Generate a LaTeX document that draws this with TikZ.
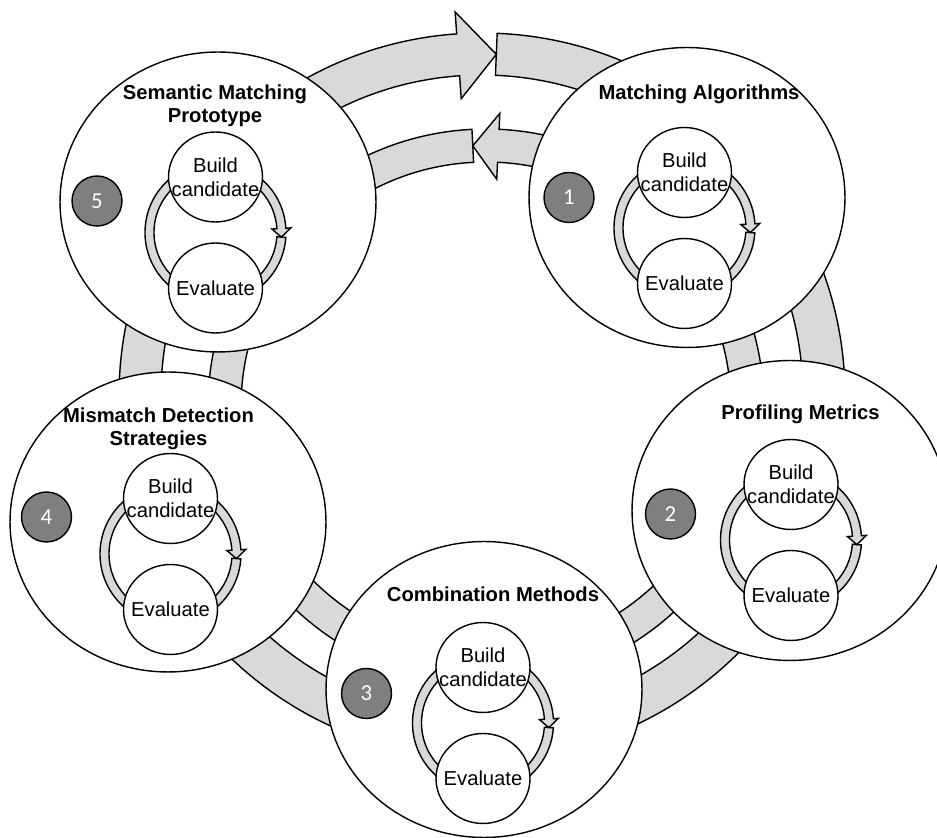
\documentclass[tikz,border=0pt]{standalone}
\usepackage{fontspec}
\setmainfont{Liberation Sans}
\newfontfamily\numfont{Carlito}
\usetikzlibrary{shapes.geometric}

\definecolor{bandgray}{RGB}{217,217,217}
\definecolor{numgray}{RGB}{127,127,127}

\tikzset{
  outline/.style={draw=black, line width=0.8pt, line join=miter},
  band/.style={outline, fill=bandgray},
  phase/.style={ellipse, outline, fill=white, inner sep=0pt,
    minimum width=6.32cm, minimum height=6cm},
  stepcirc/.style={ellipse, outline, fill=white, inner sep=0pt,
    minimum width=1.88cm, minimum height=1.8cm},
  steptext/.style={align=center, inner sep=0pt,
    font=\fontsize{11.5}{13.5}\selectfont},
  numcirc/.style={circle, outline, fill=numgray, inner sep=0pt,
    minimum size=1cm, text=white, font=\numfont\fontsize{13}{15}\selectfont},
  phasetitle/.style={align=center, inner sep=0pt, anchor=north,
    font=\fontsize{11.5}{13}\selectfont\bfseries},
}

% inner build/evaluate cycle: #1 name prefix, (#2,#3) centre of the loop
\newcommand{\buildloop}[3]{%
  \begin{scope}[shift={(#2,#3)}]
    \path[band] (-4:70.5) arc[start angle=-4, end angle=-356.5, radius=70.5]
      -- (-356.5:75.5) -- (-364:66) -- (-356.5:56.5) -- (-356.5:61.5)
      arc[start angle=-356.5, end angle=-4, radius=61.5] -- cycle;
    \node[stepcirc] (#1b) at (0,55.5) {};
    \node[steptext] (#1bt) at (#1b.center) {Build\\candidate};
    \node[stepcirc] (#1e) at (0,-55.5) {};
    \node[steptext] (#1et) at (#1e.center) {Evaluate};
  \end{scope}}

\begin{document}
\begin{tikzpicture}[x=0.02cm, y=0.02cm]
  \useasboundingbox (0,0) rectangle (937,838);
  \clip (0,0) rectangle (937,838);

  % outer clockwise band
  \begin{scope}[shift={(482,442)}]
    \path[band] (87.6:363) arc[start angle=87.6, end angle=-266, radius=363]
      -- (-266:385) -- (-272.4:342) -- (-266:298) -- (-266:321)
      arc[start angle=-266, end angle=87.6, radius=321] -- cycle;
  \end{scope}

  % inner counter-clockwise band
  \begin{scope}[shift={(486,431)}]
    \path[band] (92.9:278) arc[start angle=92.9, end angle=447.3, radius=278]
      -- (447.3:294) -- (452.9:261.5) -- (447.3:228) -- (447.3:245)
      arc[start angle=447.3, end angle=92.9, radius=245] -- cycle;
  \end{scope}

  % phases
  \node[phase] (p1) at (687,640.5) {};
  \node[phase] (p2) at (790,327.5) {};
  \node[phase, minimum height=5.92cm] (p3) at (484,148.5) {};
  \node[phase] (p4) at (168,316) {};
  \node[phase] (p5) at (218,636) {};

  \buildloop{l1}{684.5}{610}
  \buildloop{l2}{791}{298}
  \buildloop{l3}{483}{115}
  \buildloop{l4}{170.5}{284}
  \buildloop{l5}{215.5}{605.5}

  \node[numcirc] (n1) at (569,640.5) {1};
  \node[numcirc] (n2) at (670.5,324) {2};
  \node[numcirc] (n3) at (366.5,144.5) {3};
  \node[numcirc] (n4) at (46.5,321) {4};
  \node[numcirc] (n5) at (97,637) {5};

  \node[phasetitle] (t1) at (699,753) {Matching Algorithms};
  \node[phasetitle] (t2) at (800.5,433) {Profiling Metrics};
  \node[phasetitle] (t3) at (493,251) {Combination Methods};
  \node[phasetitle] (t4) at (158.5,430) {Mismatch Detection\\Strategies};
  \node[phasetitle] (t5) at (215,753) {Semantic Matching\\Prototype};
\end{tikzpicture}
\end{document}
